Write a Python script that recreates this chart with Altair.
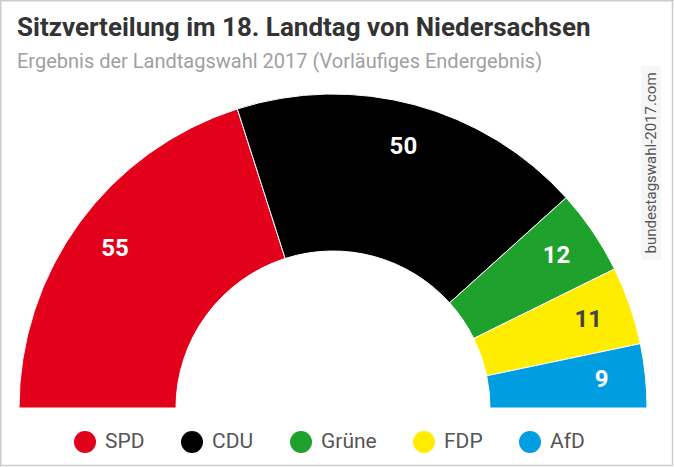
import math
import altair as alt
import pandas as pd

parties = ["SPD", "CDU", "Grüne", "FDP", "AfD"]
seats = [55, 50, 12, 11, 9]
colors = ["#e2001a", "#000000", "#1fa12d", "#ffed00", "#009ee0"]

title_text = "Sitzverteilung im 18. Landtag von Niedersachsen"
subtitle_text = "Ergebnis der Landtagswahl 2017 (Vorläufiges Endergebnis)"
site_text = "bundestagswahl-2017.com"

df = pd.DataFrame({
    "party": parties,
    "seats": seats,
    "order": list(range(len(parties))),
})

W, H = 674, 467
cx, cy = 333, 408

theta = alt.Theta("seats:Q", stack=True,
                  scale=alt.Scale(range=[-math.pi / 2, math.pi / 2]))
order = alt.Order("order:Q", sort="ascending")

base = alt.Chart(df)

arcs = base.mark_arc(radius=314, radius2=157, stroke="white", strokeWidth=1).encode(
    theta=theta,
    order=order,
    color=alt.Color(
        "party:N",
        sort=parties,
        scale=alt.Scale(domain=parties, range=colors),
        legend=alt.Legend(
            title=None, orient="none", legendX=74, legendY=431,
            direction="horizontal", symbolType="circle", symbolSize=484,
            symbolStrokeWidth=0, symbolOpacity=1, labelFont="Roboto", labelFontSize=21,
            labelColor="#555555", labelOffset=9, columnPadding=36, padding=0,
        ),
    ),
    x=alt.value(cx),
    y=alt.value(cy),
)

labels = base.mark_text(radius=270, font="Roboto", fontSize=24, fontWeight="bold",
                        align="center", baseline="middle").encode(
    theta=theta,
    order=order,
    text="seats:Q",
    color=alt.condition(alt.datum.party == "FDP", alt.value("#444444"), alt.value("#ffffff")),
    x=alt.value(cx),
    y=alt.value(cy),
)

one = pd.DataFrame({"title": [title_text], "subtitle": [subtitle_text], "site": [site_text]})

title = alt.Chart(one).mark_text(font="Roboto", fontSize=26, fontWeight="bold", color="#333333",
                                 align="left", baseline="alphabetic").encode(
    text="title:N", x=alt.value(17), y=alt.value(36)
)
subtitle = alt.Chart(one).mark_text(font="Roboto", fontSize=20, color="#a0a0a0",
                                    align="left", baseline="alphabetic").encode(
    text="subtitle:N", x=alt.value(17), y=alt.value(68)
)

box = alt.Chart(one).mark_rect(fill="#f6f6f6").encode(
    x=alt.value(641), x2=alt.value(661), y=alt.value(66), y2=alt.value(260)
)
site = alt.Chart(one).mark_text(angle=270, font="Roboto", fontSize=15, color="#555555",
                                align="center", baseline="middle").encode(
    text="site:N", x=alt.value(651), y=alt.value(163)
)

border = alt.Chart(one).mark_rect(filled=False, stroke="#cccccc", strokeWidth=1.5).encode(
    x=alt.value(0.75), x2=alt.value(672.5), y=alt.value(0.75), y2=alt.value(465.5)
)

chart = alt.layer(border, title, subtitle, box, arcs, labels, site).properties(
    width=W,
    height=H,
    padding=0,
    autosize=alt.AutoSizeParams(type="none"),
).configure_view(strokeWidth=0).configure(background="white")

chart.save("out.html", embed_options={"renderer": "svg", "actions": False})
